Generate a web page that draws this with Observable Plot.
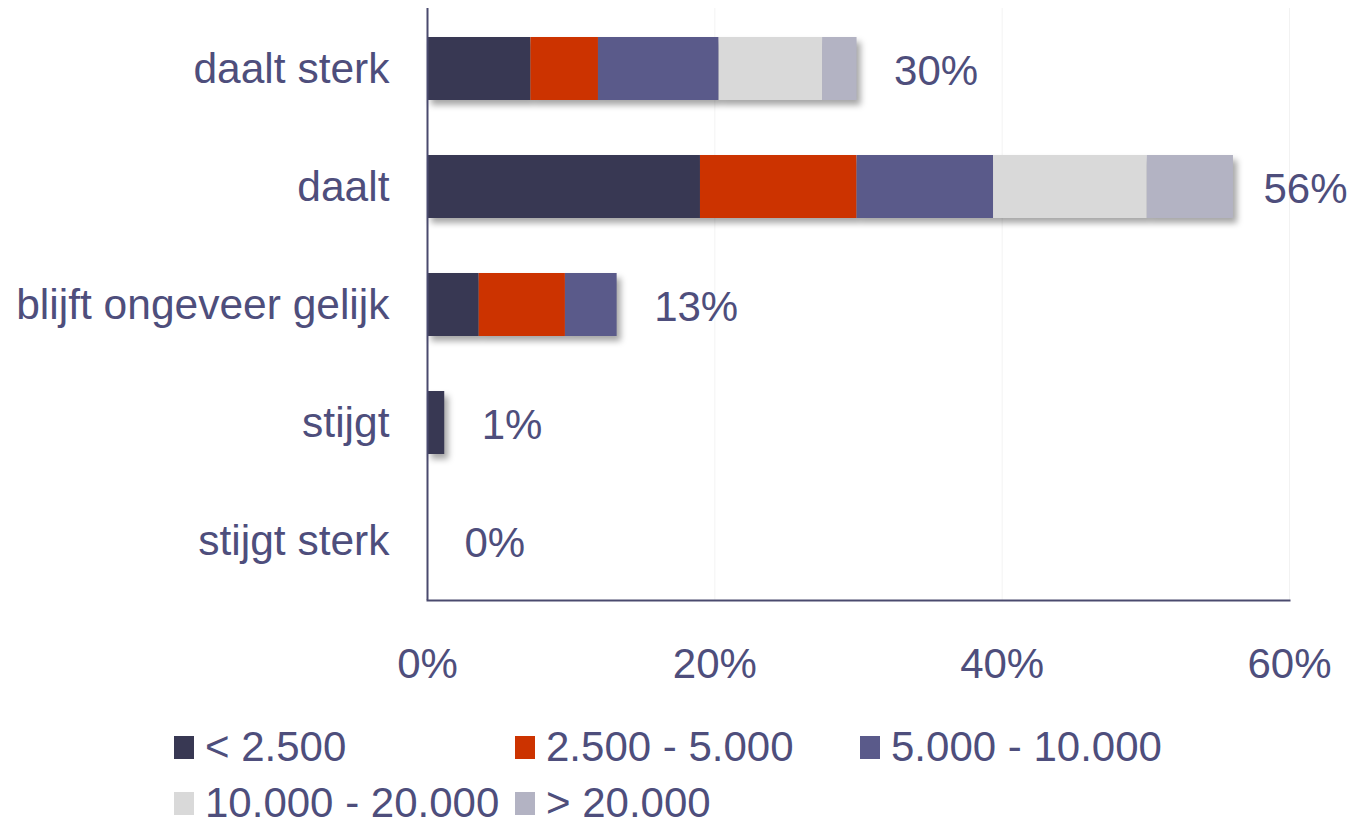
<!DOCTYPE html>
<html><head><meta charset="utf-8">
<script src="https://cdn.jsdelivr.net/npm/d3@7"></script>
<script src="https://cdn.jsdelivr.net/npm/@observablehq/plot@0.6"></script>
<style>
body{margin:0;background:#fff;font-family:"Liberation Sans",Arial,sans-serif;overflow:hidden;}
#chart svg g[aria-label="bar"]{filter:drop-shadow(4px 5px 3px rgba(0,0,0,0.35));}
.legend{display:grid;grid-template-columns:341px 345px auto;row-gap:16px;margin-left:174px;padding-top:27px;color:#4e4e7c;font-size:42px;line-height:40px;}
.legend .item{display:flex;align-items:center;white-space:nowrap;height:40px;}
.legend .sw{width:20px;height:23px;margin-right:11px;flex:none;}
</style></head>
<body><div id="chart"></div><div class="legend" id="legend"></div>
<script>
const categories = ["daalt sterk","daalt","blijft ongeveer gelijk","stijgt","stijgt sterk"];
const classes = ["< 2.500","2.500 - 5.000","5.000 - 10.000","10.000 - 20.000","> 20.000"];
const colors = ["#383853","#cc3300","#5a5a8a","#d9d9d9","#b3b3c3"];
const v_lt2500 = [7.2, 19.0, 3.6, 1.2, 0];
const v_2500_5000 = [4.7, 10.9, 6.0, 0, 0];
const v_5000_10000 = [8.4, 9.5, 3.6, 0, 0];
const v_10000_20000 = [7.2, 10.7, 0, 0, 0];
const v_gt20000 = [2.4, 6.0, 0, 0, 0];
const totalLabels = ["30%","56%","13%","1%","0%"];
const xTicks = [0, 20, 40, 60];

const textColor = "#4e4e7c";
const axisColor = "#4a4a6e";

const series = [v_lt2500, v_2500_5000, v_5000_10000, v_10000_20000, v_gt20000];
const data = [];
series.forEach((vals, si) => vals.forEach((v, ci) => data.push({cat: categories[ci], cls: classes[si], value: v})));
const totals = categories.map((c, i) => ({cat: c, total: d3.sum(series, s => s[i]), label: totalLabels[i]}));
// labels near the right edge are pulled slightly closer to their bar so they fit
const nearEdge = d => d.total > 50;

const plot = Plot.plot({
  width: 1349,
  height: 700,
  marginLeft: 427,
  marginRight: 60,
  marginTop: 8,
  marginBottom: 100,
  style: {fontFamily: '"Liberation Sans", Arial, sans-serif', fontSize: "42px", color: textColor, background: "#fff"},
  x: {domain: [0, 60]},
  y: {domain: categories, paddingInner: 0.47, paddingOuter: 0.235},
  color: {domain: classes, range: colors},
  marks: [
    Plot.gridX({ticks: [20, 40, 60], stroke: "#000", strokeOpacity: 0.05, strokeWidth: 1}),
    Plot.barX(data, {x: "value", y: "cat", fill: "cls"}),
    Plot.text(totals, {filter: d => !nearEdge(d), x: "total", y: "cat", text: "label", textAnchor: "start", dx: 37, dy: 3, fontSize: 42, fill: textColor}),
    Plot.text(totals, {filter: nearEdge, x: "total", y: "cat", text: "label", textAnchor: "start", dx: 30, dy: 3, fontSize: 42, fill: textColor}),
    Plot.ruleX([0], {stroke: axisColor, strokeWidth: 2}),
    Plot.frame({anchor: "bottom", stroke: axisColor, strokeWidth: 2}),
    Plot.axisX({ticks: xTicks, tickFormat: d => d + "%", tickSize: 0, tickPadding: 48, fontSize: 42, label: null, fill: textColor}),
    Plot.axisY({tickSize: 0, tickPadding: 38, fontSize: 42.5, label: null, fill: textColor})
  ]
});
document.getElementById("chart").appendChild(plot);

const legend = document.getElementById("legend");
classes.forEach((c, i) => {
  const it = document.createElement("div");
  it.className = "item";
  const sw = document.createElement("span");
  sw.className = "sw";
  sw.style.background = colors[i];
  const tx = document.createElement("span");
  tx.textContent = c;
  it.appendChild(sw); it.appendChild(tx);
  legend.appendChild(it);
});
</script>
</body></html>
